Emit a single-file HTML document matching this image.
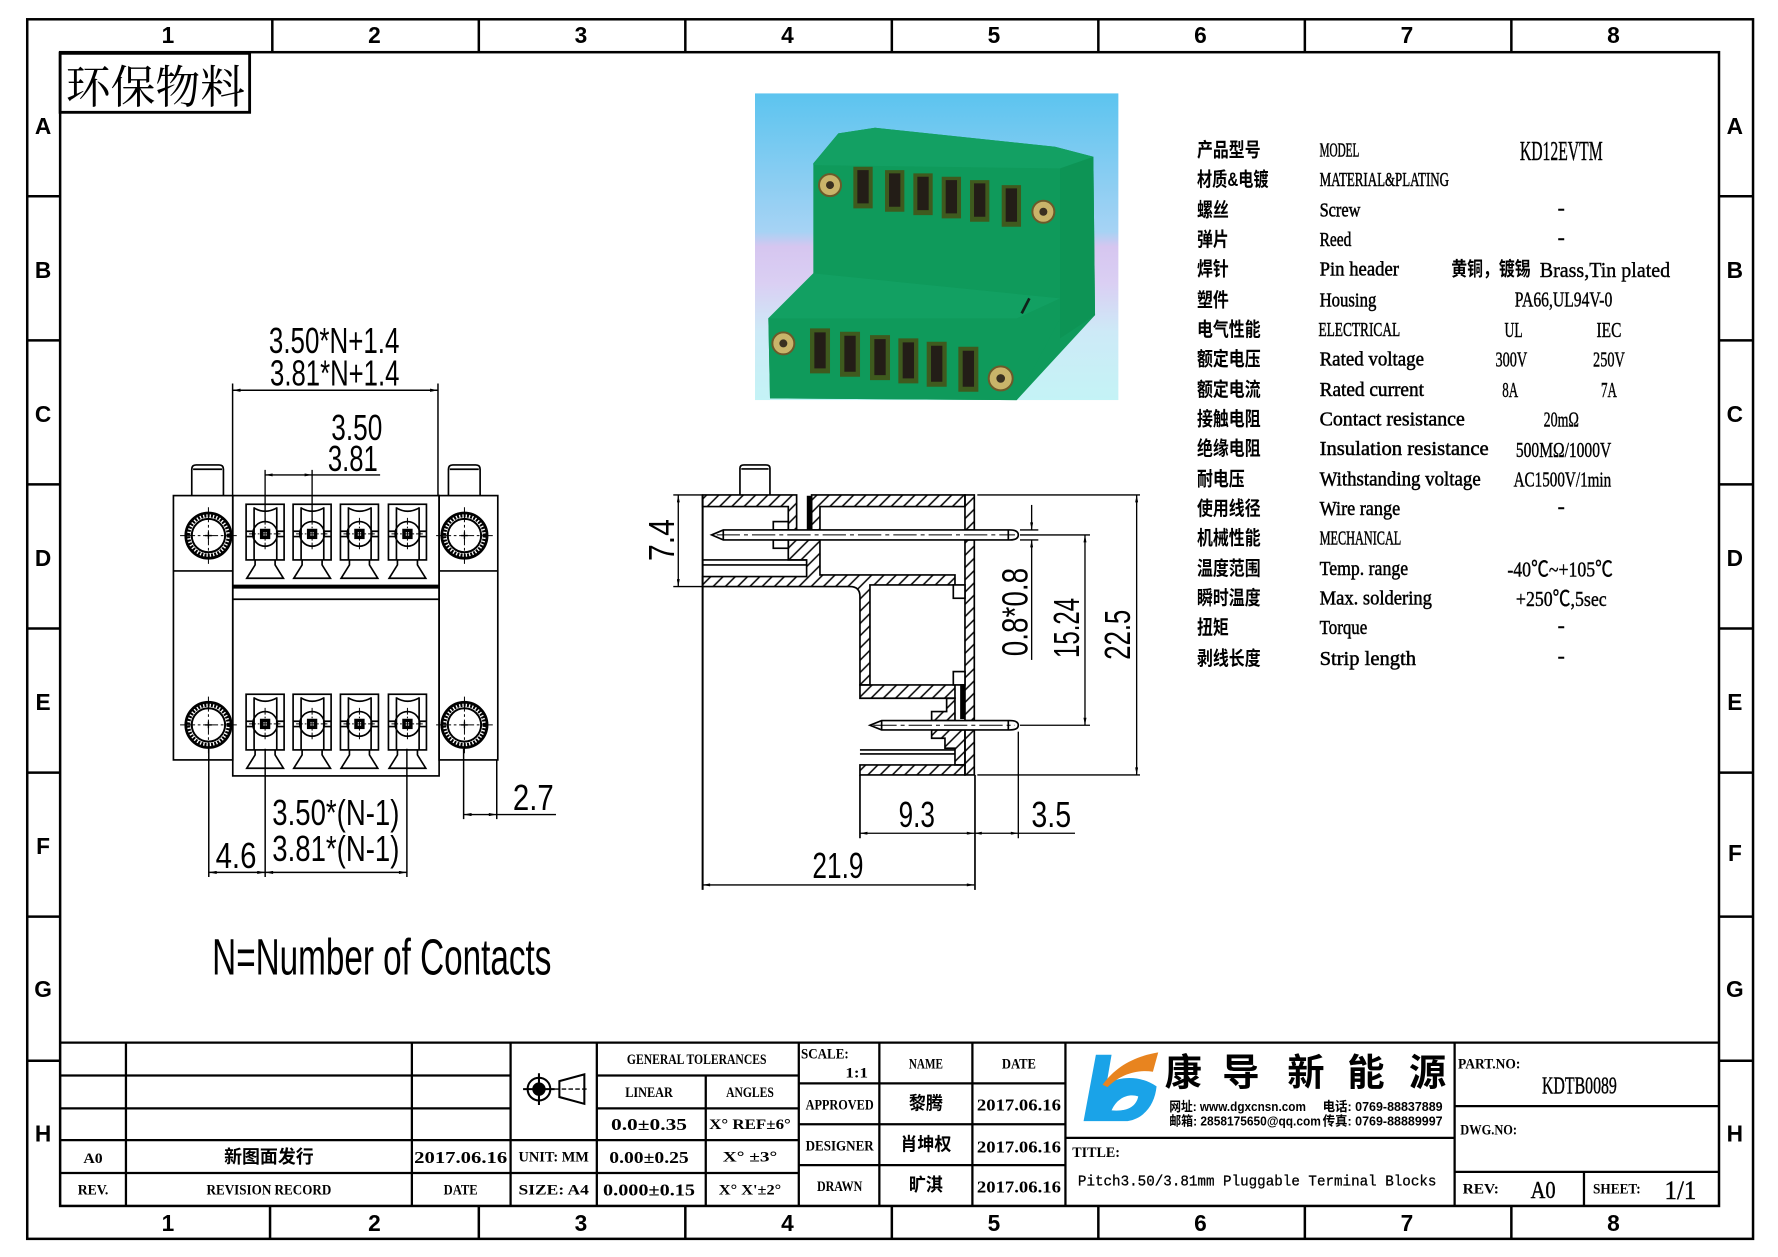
<!DOCTYPE html>
<html><head><meta charset="utf-8">
<style>
html,body{margin:0;padding:0;background:#fff;}
svg{display:block;}
.b{font-family:"Liberation Sans",sans-serif;font-weight:bold;font-size:20px;fill:#000;}
.d{font-family:"Liberation Sans",sans-serif;font-size:32px;fill:#000;}
.cn{font-family:"Liberation Sans","Noto Sans CJK SC",sans-serif;font-weight:bold;font-size:17px;fill:#000;}
.en{font-family:"Liberation Serif",serif;font-size:18px;fill:#000;stroke:#000;stroke-width:0.45;}
.v{font-family:"Liberation Serif","Noto Sans CJK SC",serif;font-size:19px;fill:#000;stroke:#000;stroke-width:0.35;}
.t{font-family:"Liberation Serif","Noto Sans CJK SC",serif;font-weight:bold;font-size:13px;fill:#000;}
.tc{font-family:"Liberation Sans","Noto Sans CJK SC",sans-serif;font-weight:bold;font-size:16px;fill:#000;}
</style></head><body>
<svg xmlns="http://www.w3.org/2000/svg" width="1778" height="1257" viewBox="0 0 1567 1108" preserveAspectRatio="none">
<defs>
 <pattern id="hp" patternUnits="userSpaceOnUse" width="26" height="26" patternTransform="rotate(45)"><line x1="3" y1="-2" x2="3" y2="28" stroke="#000" stroke-width="4.5"/></pattern>
 <marker id="ad" viewBox="0 0 10 4" refX="10" refY="2" markerWidth="9" markerHeight="2.8" orient="auto-start-reverse" markerUnits="userSpaceOnUse"><path d="M0 0L10 2L0 4z" fill="#000"/></marker>
 <marker id="ap" viewBox="0 0 10 4" refX="10" refY="2" markerWidth="30" markerHeight="9" orient="auto-start-reverse" markerUnits="userSpaceOnUse"><path d="M0 0L10 2L0 4z" fill="#000"/></marker>
 <linearGradient id="sky" x1="0" y1="0" x2="0" y2="1">
  <stop offset="0" stop-color="#5cc4ef"/>
  <stop offset="0.45" stop-color="#a6d3f4"/>
  <stop offset="0.5" stop-color="#d6c6f0"/>
  <stop offset="0.62" stop-color="#dacff3"/>
  <stop offset="0.78" stop-color="#cdeaf7"/>
  <stop offset="1" stop-color="#c4f3f6"/>
 </linearGradient>
 <g id="cell" fill="none" stroke="#000" stroke-width="5">
  <rect x="-57" y="-89" width="114" height="167"/>
  <path d="M-33 -80V78M35 -80V78"/>
  <path d="M-33 -78Q0 -58 35 -78"/>
  <path d="M-57 -8H-37M37 -8H57M-57 8H-37M37 8H57"/>
  <circle r="37"/>
  <rect x="-13" y="-13" width="26" height="26" fill="#000"/>
  <rect x="-5" y="-5" width="10" height="10" fill="#fff" stroke="none"/>
  <path d="M0 -48V48M-48 0H48" stroke-width="3" stroke-dasharray="20 6 5 6"/>
  <path d="M-30 78V93L-55 133H55L30 93V78"/>
 </g>
 <g id="screw" fill="none" stroke="#000">
  <circle r="68" stroke-width="8"/>
  <circle r="60" stroke-width="11" stroke-dasharray="6 4"/>
  <circle r="50" stroke-width="6"/>
  <path d="M-85 0H85M0 -85V85" stroke-width="3" stroke-dasharray="45 8 8 8"/>
  <path d="M-10 0H10M0 -10V10" stroke-width="4"/>
 </g>
</defs>

<!-- Frame -->
<g fill="none" stroke="#000" stroke-width="2.2">
 <rect x="24" y="17" width="1521" height="1075"/>
 <rect x="53" y="46" width="1462" height="1017"/>
 <path d="M240 17V46M422 17V46M604 17V46M786 17V46M968 17V46M1150 17V46M1332 17V46"/>
 <path d="M238 1063V1092M422 1063V1092M604 1063V1092M786 1063V1092M968 1063V1092M1150 1063V1092M1332 1063V1092"/>
 <path d="M24 173H53M24 300H53M24 427H53M24 554H53M24 681H53M24 808H53M24 935H53"/>
 <path d="M1515 173H1545M1515 300H1545M1515 427H1545M1515 554H1545M1515 681H1545M1515 808H1545M1515 935H1545"/>
</g>
<g class="b" text-anchor="middle">
 <text x="148" y="38">1</text><text x="330" y="38">2</text><text x="512" y="38">3</text><text x="694" y="38">4</text>
 <text x="876" y="38">5</text><text x="1058" y="38">6</text><text x="1240" y="38">7</text><text x="1422" y="38">8</text>
 <text x="148" y="1085">1</text><text x="330" y="1085">2</text><text x="512" y="1085">3</text><text x="694" y="1085">4</text>
 <text x="876" y="1085">5</text><text x="1058" y="1085">6</text><text x="1240" y="1085">7</text><text x="1422" y="1085">8</text>
 <text x="38" y="118">A</text><text x="38" y="245">B</text><text x="38" y="372">C</text><text x="38" y="499">D</text>
 <text x="38" y="626">E</text><text x="38" y="753">F</text><text x="38" y="879">G</text><text x="38" y="1006">H</text>
 <text x="1529" y="118">A</text><text x="1529" y="245">B</text><text x="1529" y="372">C</text><text x="1529" y="499">D</text>
 <text x="1529" y="626">E</text><text x="1529" y="759">F</text><text x="1529" y="879">G</text><text x="1529" y="1006">H</text>
</g>

<!-- 环保物料 -->
<rect x="53" y="47" width="167" height="52" fill="none" stroke="#000" stroke-width="2.5"/>
<text x="58" y="91" font-family="'Liberation Serif','Noto Serif CJK SC',serif" font-size="40" textLength="158" lengthAdjust="spacingAndGlyphs">环保物料</text>

<!-- Photo -->
<g transform="translate(661 75) scale(0.2938)">
 <rect x="15" y="25" width="1090" height="920" fill="url(#sky)"/>
 <path d="M190 235L265 145L375 128L915 185L1030 215L1035 690L800 945L60 940L55 700L190 565Z" fill="#0f9a5b"/>
 <path d="M930 250L1030 215L1035 690L930 760Z" fill="#0d9455"/>
 <path d="M190 235L265 145L375 128L915 185L1030 215L930 250L190 240Z" fill="#13a063"/>
 <path d="M55 700L190 565L930 640L930 700L800 945L60 940Z" fill="#0f9a5b"/>
 <path d="M55 700L190 565L930 640L800 700Z" fill="#12a062"/>
 <g fill="#3f5a1e">
  <path d="M310 245h58v125h-58z"/><path d="M405 255h58v125h-58z"/><path d="M490 265h58v125h-58z"/>
  <path d="M575 275h58v125h-58z"/><path d="M660 285h58v125h-58z"/><path d="M755 300h58v125h-58z"/>
  <path d="M180 730h60v135h-60z"/><path d="M270 740h60v135h-60z"/><path d="M360 750h60v135h-60z"/>
  <path d="M445 760h60v135h-60z"/><path d="M530 770h60v135h-60z"/><path d="M625 785h60v135h-60z"/>
 </g>
 <g fill="#231d17">
  <path d="M322 255h34v100h-34z"/><path d="M417 265h34v100h-34z"/><path d="M502 275h34v100h-34z"/>
  <path d="M587 285h34v100h-34z"/><path d="M672 295h34v100h-34z"/><path d="M767 310h34v100h-34z"/>
  <path d="M193 742h34v108h-34z"/><path d="M283 752h34v108h-34z"/><path d="M373 762h34v108h-34z"/>
  <path d="M458 772h34v108h-34z"/><path d="M543 782h34v108h-34z"/><path d="M638 797h34v108h-34z"/>
 </g>
 <g fill="#c9b46a" stroke="#6b5a2a" stroke-width="6">
  <circle cx="240" cy="300" r="33"/><circle cx="880" cy="380" r="33"/>
  <circle cx="100" cy="775" r="33"/><circle cx="752" cy="880" r="36"/>
 </g>
 <g fill="#3a3020">
  <circle cx="240" cy="300" r="12"/><circle cx="880" cy="380" r="12"/>
  <circle cx="100" cy="775" r="12"/><circle cx="752" cy="880" r="13"/>
 </g>
 <path d="M838 640L815 685" stroke="#10221a" stroke-width="8"/>
</g>

<!-- Front view -->
<g transform="translate(145.5 396.6) scale(0.2938)" fill="none" stroke="#000" stroke-width="5">
 <path d="M80 137V58Q80 45 93 45H162Q175 45 175 58V137M84 58H171"/>
 <path d="M850 137V58Q850 45 863 45H932Q945 45 945 58V137M854 58H941"/>
 <rect x="25" y="137" width="178" height="793"/>
 <line x1="25" y1="363" x2="203" y2="363"/>
 <rect x="822" y="137" width="176" height="793"/>
 <line x1="822" y1="363" x2="998" y2="363"/>
 <rect x="203" y="137" width="619" height="841"/>
 <line x1="203" y1="410" x2="822" y2="410" stroke-width="12"/>
 <line x1="203" y1="448" x2="822" y2="448"/>
 <use href="#screw" transform="translate(130 257)"/>
 <use href="#screw" transform="translate(130 825)"/>
 <use href="#screw" transform="translate(898 257)"/>
 <use href="#screw" transform="translate(898 825)"/>
 <use href="#cell" transform="translate(300 252)"/>
 <use href="#cell" transform="translate(441 252)"/>
 <use href="#cell" transform="translate(583 252)"/>
 <use href="#cell" transform="translate(727 252)"/>
 <use href="#cell" transform="translate(300 822)"/>
 <use href="#cell" transform="translate(441 822)"/>
 <use href="#cell" transform="translate(583 822)"/>
 <use href="#cell" transform="translate(727 822)"/>
 <path d="M300 60V215M441 60V215" stroke-width="4"/>
 <line x1="300" y1="75" x2="441" y2="75" stroke-width="4" marker-start="url(#ap)" marker-end="url(#ap)"/>
 <line x1="441" y1="75" x2="645" y2="75" stroke-width="4"/>
</g>
<!-- front view dims (display coords) -->
<g fill="none" stroke="#000" stroke-width="1.3">
 <path d="M205 338V437M386 338V437"/>
 <line x1="205" y1="344" x2="386" y2="344" marker-start="url(#ad)" marker-end="url(#ad)"/>
 <path d="M184 660V773M233.7 660V773M358.6 660V773M408.6 660V722M437.8 670V722"/>
 <line x1="184" y1="769" x2="233.7" y2="769" marker-start="url(#ad)" marker-end="url(#ad)"/>
 <line x1="233.7" y1="769" x2="358.6" y2="769" marker-start="url(#ad)" marker-end="url(#ad)"/>
 <line x1="408.6" y1="718" x2="437.8" y2="718" marker-start="url(#ad)" marker-end="url(#ad)"/>
 <line x1="437.8" y1="718" x2="490" y2="718"/>
</g>
<g class="d">
 <text x="237" y="311" textLength="115" lengthAdjust="spacingAndGlyphs">3.50*N+1.4</text>
 <text x="238" y="340" textLength="114" lengthAdjust="spacingAndGlyphs">3.81*N+1.4</text>
 <text x="292" y="388" textLength="45" lengthAdjust="spacingAndGlyphs">3.50</text>
 <text x="289" y="415" textLength="44" lengthAdjust="spacingAndGlyphs">3.81</text>
 <text x="240" y="727" textLength="112" lengthAdjust="spacingAndGlyphs">3.50*(N-1)</text>
 <text x="240" y="759" textLength="112" lengthAdjust="spacingAndGlyphs">3.81*(N-1)</text>
 <text x="190" y="765" textLength="36" lengthAdjust="spacingAndGlyphs">4.6</text>
 <text x="452" y="714" textLength="36" lengthAdjust="spacingAndGlyphs">2.7</text>
 <text x="187" y="859" font-size="45" textLength="299" lengthAdjust="spacingAndGlyphs">N=Number of Contacts</text>
</g>

<!-- Side view -->
<g transform="translate(564 396.6) scale(0.2938)" stroke="#000" stroke-width="5" fill="none">
 <g fill="url(#hp)">
  <path d="M188 135H470V240H445V170H188Z"/>
  <path d="M515 135H975V170H540V240H515Z"/>
  <path d="M975 135H1003V240H975Z"/>
  <path d="M975 270H1003V812H975Z"/>
  <path d="M975 840H1003V975H975Z"/>
  <path d="M445 270H540V375H945V405H690V705H660V440Q660 410 630 410H188V380H500V330H445Z"/>
  <path d="M660 705H945V745H660Z"/>
  <path d="M920 745H945V812H875V785H920Z"/>
  <path d="M875 840H975V945H945V895H915V865H875Z"/>
  <path d="M660 945H975V975H660Z"/>
 </g>
 <rect x="400" y="215" width="45" height="25" fill="#fff"/>
 <rect x="400" y="270" width="45" height="25" fill="#fff"/>
 <rect x="940" y="405" width="35" height="40" fill="#fff"/>
 <rect x="940" y="665" width="35" height="40" fill="#fff"/>
 <path d="M188 330H500M188 345H500"/>
 <path d="M660 900H945M660 912H945"/>
 <rect x="503" y="140" width="12" height="105" fill="#000"/>
 <rect x="963" y="705" width="10" height="100" fill="#000"/>
 <path d="M188 135V1320" stroke-width="6"/>
 <path d="M1005 975V1320"/>
 <path d="M660 975V1165"/>
 <path d="M300 135V55Q300 45 312 45H378Q390 45 390 55V135M304 57H386"/>
 <path d="M250 240H1110Q1135 240 1135 255Q1135 270 1110 270H250L215 255Z" fill="#fff"/>
 <path d="M250 240V270M1105 240V270"/>
 <path d="M230 255H1125" stroke-width="3" stroke-dasharray="70 12 12 12"/>
 <path d="M725 812H1110Q1135 812 1135 826Q1135 840 1110 840H725L690 826Z" fill="#fff"/>
 <path d="M725 812V840M1105 812V840"/>
 <path d="M700 826H1125" stroke-width="3" stroke-dasharray="70 12 12 12"/>
 <g stroke-width="4">
  <path d="M100 135H188M100 410H188"/>
  <line x1="115" y1="135" x2="115" y2="410" marker-start="url(#ap)" marker-end="url(#ap)"/>
  <path d="M1012 135H1500M1012 975H1500"/>
  <line x1="1490" y1="135" x2="1490" y2="975" marker-start="url(#ap)" marker-end="url(#ap)"/>
  <path d="M1140 255H1350M1140 826H1350"/>
  <line x1="1335" y1="255" x2="1335" y2="826" marker-start="url(#ap)" marker-end="url(#ap)"/>
  <path d="M1140 240H1195M1140 270H1195"/>
  <line x1="1175" y1="165" x2="1175" y2="240" marker-end="url(#ap)"/>
  <line x1="1175" y1="630" x2="1175" y2="270" marker-end="url(#ap)"/>
  <line x1="660" y1="1150" x2="1003" y2="1150" marker-start="url(#ap)" marker-end="url(#ap)"/>
  <line x1="1003" y1="1150" x2="1135" y2="1150" marker-start="url(#ap)" marker-end="url(#ap)"/>
  <path d="M1135 1150H1305M1135 845V1165"/>
  <line x1="188" y1="1305" x2="1003" y2="1305" marker-start="url(#ap)" marker-end="url(#ap)"/>
 </g>
</g>
<g class="d">
 <text transform="translate(582.5 476) rotate(-90)" x="0" y="11.5" text-anchor="middle" textLength="37" lengthAdjust="spacingAndGlyphs">7.4</text>
 <text transform="translate(894 539.5) rotate(-90)" x="0" y="11.5" text-anchor="middle" textLength="78" lengthAdjust="spacingAndGlyphs">0.8*0.8</text>
 <text transform="translate(939.5 553.5) rotate(-90)" x="0" y="11.5" text-anchor="middle" textLength="53" lengthAdjust="spacingAndGlyphs">15.24</text>
 <text transform="translate(984.5 559.5) rotate(-90)" x="0" y="11.5" text-anchor="middle" textLength="44" lengthAdjust="spacingAndGlyphs">22.5</text>
 <text x="792" y="729" textLength="32" lengthAdjust="spacingAndGlyphs">9.3</text>
 <text x="909" y="729" textLength="35" lengthAdjust="spacingAndGlyphs">3.5</text>
 <text x="716" y="774" textLength="45" lengthAdjust="spacingAndGlyphs">21.9</text>
</g>

<!-- Spec table -->
<g class="cn">
 <text x="1055" y="138" textLength="56" lengthAdjust="spacingAndGlyphs">产品型号</text>
 <text x="1055" y="164" textLength="63" lengthAdjust="spacingAndGlyphs">材质&amp;电镀</text>
 <text x="1055" y="191" textLength="28" lengthAdjust="spacingAndGlyphs">螺丝</text>
 <text x="1055" y="217" textLength="28" lengthAdjust="spacingAndGlyphs">弹片</text>
 <text x="1055" y="243" textLength="28" lengthAdjust="spacingAndGlyphs">焊针</text>
 <text x="1055" y="270" textLength="28" lengthAdjust="spacingAndGlyphs">塑件</text>
 <text x="1055" y="296" textLength="56" lengthAdjust="spacingAndGlyphs">电气性能</text>
 <text x="1055" y="322" textLength="56" lengthAdjust="spacingAndGlyphs">额定电压</text>
 <text x="1055" y="349" textLength="56" lengthAdjust="spacingAndGlyphs">额定电流</text>
 <text x="1055" y="375" textLength="56" lengthAdjust="spacingAndGlyphs">接触电阻</text>
 <text x="1055" y="401" textLength="56" lengthAdjust="spacingAndGlyphs">绝缘电阻</text>
 <text x="1055" y="428" textLength="42" lengthAdjust="spacingAndGlyphs">耐电压</text>
 <text x="1055" y="454" textLength="56" lengthAdjust="spacingAndGlyphs">使用线径</text>
 <text x="1055" y="480" textLength="56" lengthAdjust="spacingAndGlyphs">机械性能</text>
 <text x="1055" y="507" textLength="56" lengthAdjust="spacingAndGlyphs">温度范围</text>
 <text x="1055" y="533" textLength="56" lengthAdjust="spacingAndGlyphs">瞬时温度</text>
 <text x="1055" y="559" textLength="28" lengthAdjust="spacingAndGlyphs">扭矩</text>
 <text x="1055" y="586" textLength="56" lengthAdjust="spacingAndGlyphs">剥线长度</text>
 <text x="1279" y="243" textLength="70" lengthAdjust="spacingAndGlyphs">黄铜，镀锡</text>
</g>
<g class="en">
 <text x="1163" y="138" textLength="35" lengthAdjust="spacingAndGlyphs">MODEL</text>
 <text x="1163" y="164" textLength="114" lengthAdjust="spacingAndGlyphs">MATERIAL&amp;PLATING</text>
 <text x="1163" y="191" textLength="36" lengthAdjust="spacingAndGlyphs">Screw</text>
 <text x="1163" y="217" textLength="28" lengthAdjust="spacingAndGlyphs">Reed</text>
 <text x="1163" y="243" textLength="70" lengthAdjust="spacingAndGlyphs">Pin header</text>
 <text x="1163" y="270" textLength="50" lengthAdjust="spacingAndGlyphs">Housing</text>
 <text x="1162" y="296" textLength="72" lengthAdjust="spacingAndGlyphs">ELECTRICAL</text>
 <text x="1163" y="322" textLength="92" lengthAdjust="spacingAndGlyphs">Rated voltage</text>
 <text x="1163" y="349" textLength="92" lengthAdjust="spacingAndGlyphs">Rated current</text>
 <text x="1163" y="375" textLength="128" lengthAdjust="spacingAndGlyphs">Contact resistance</text>
 <text x="1163" y="401" textLength="149" lengthAdjust="spacingAndGlyphs">Insulation resistance</text>
 <text x="1163" y="428" textLength="142" lengthAdjust="spacingAndGlyphs">Withstanding voltage</text>
 <text x="1163" y="454" textLength="71" lengthAdjust="spacingAndGlyphs">Wire range</text>
 <text x="1163" y="480" textLength="72" lengthAdjust="spacingAndGlyphs">MECHANICAL</text>
 <text x="1163" y="507" textLength="78" lengthAdjust="spacingAndGlyphs">Temp. range</text>
 <text x="1163" y="533" textLength="99" lengthAdjust="spacingAndGlyphs">Max. soldering</text>
 <text x="1163" y="559" textLength="42" lengthAdjust="spacingAndGlyphs">Torque</text>
 <text x="1163" y="586" textLength="85" lengthAdjust="spacingAndGlyphs">Strip length</text>
</g>
<g class="v" text-anchor="middle">
 <text x="1376" y="141" font-size="24" textLength="73" lengthAdjust="spacingAndGlyphs">KD12EVTM</text>
 <text x="1376" y="189">-</text>
 <text x="1376" y="215">-</text>
 <text x="1378" y="270" textLength="86" lengthAdjust="spacingAndGlyphs">PA66,UL94V-0</text>
 <text x="1334" y="297" textLength="16" lengthAdjust="spacingAndGlyphs">UL</text>
 <text x="1418" y="297" textLength="22" lengthAdjust="spacingAndGlyphs">IEC</text>
 <text x="1332" y="323" textLength="28" lengthAdjust="spacingAndGlyphs">300V</text>
 <text x="1418" y="323" textLength="28" lengthAdjust="spacingAndGlyphs">250V</text>
 <text x="1331" y="350" textLength="14" lengthAdjust="spacingAndGlyphs">8A</text>
 <text x="1418" y="350" textLength="14" lengthAdjust="spacingAndGlyphs">7A</text>
 <text x="1376" y="376" textLength="31" lengthAdjust="spacingAndGlyphs">20mΩ</text>
 <text x="1378" y="403" textLength="84" lengthAdjust="spacingAndGlyphs">500MΩ/1000V</text>
 <text x="1377" y="429" textLength="86" lengthAdjust="spacingAndGlyphs">AC1500V/1min</text>
 <text x="1376" y="452">-</text>
 <text x="1375" y="508" textLength="93" lengthAdjust="spacingAndGlyphs">-40℃~+105℃</text>
 <text x="1376" y="534" textLength="80" lengthAdjust="spacingAndGlyphs">+250℃,5sec</text>
 <text x="1376" y="557">-</text>
 <text x="1376" y="584">-</text>
</g>
<text x="1357" y="244" class="v" textLength="115" lengthAdjust="spacingAndGlyphs">Brass,Tin plated</text>

<!-- Title block lines -->
<g fill="none" stroke="#000" stroke-width="2">
 <path d="M53 919H1515"/>
 <path d="M111 919V1063M363 919V1063M450 919V1063M526 919V1063"/>
 <path d="M53 948H450M53 977H450M53 1005H526M53 1034H526"/>
 <path d="M526 948H704M526 977H704M526 1005H704M526 1034H704M622 948V1063"/>
 <path d="M704 919V1063M775 919V1063M857 919V1063M939 919V1063"/>
 <path d="M704 955H939M704 991H939M704 1027H939"/>
 <path d="M939 1003H1282M1282 919V1063"/>
 <path d="M1282 975H1515M1282 1033H1515M1396 1033V1063"/>
</g>
<!-- projection symbol -->
<g fill="none" stroke="#000" stroke-width="1.8">
 <circle cx="475" cy="960" r="10"/>
 <circle cx="475" cy="960" r="5" fill="#000"/>
 <path d="M461 960H489M475 946V974"/>
 <path d="M493 953L515 947V973L493 967Z"/>
 <path d="M489 960H519" stroke-width="1.2" stroke-dasharray="4 2"/>
</g>
<g class="t" text-anchor="middle">
 <text x="82" y="1025" textLength="17" lengthAdjust="spacingAndGlyphs">A0</text>
 <text x="406" y="1025" font-size="15" textLength="82" lengthAdjust="spacingAndGlyphs">2017.06.16</text>
 <text x="488" y="1024" textLength="62" lengthAdjust="spacingAndGlyphs">UNIT: MM</text>
 <text x="82" y="1053" textLength="27" lengthAdjust="spacingAndGlyphs">REV.</text>
 <text x="237" y="1053" textLength="110" lengthAdjust="spacingAndGlyphs">REVISION RECORD</text>
 <text x="406" y="1053" textLength="30" lengthAdjust="spacingAndGlyphs">DATE</text>
 <text x="488" y="1053" textLength="62" lengthAdjust="spacingAndGlyphs">SIZE: A4</text>
 <text x="614" y="938" textLength="123" lengthAdjust="spacingAndGlyphs">GENERAL TOLERANCES</text>
 <text x="572" y="967" textLength="42" lengthAdjust="spacingAndGlyphs">LINEAR</text>
 <text x="661" y="967" textLength="42" lengthAdjust="spacingAndGlyphs">ANGLES</text>
 <text x="572" y="996" font-size="15" textLength="67" lengthAdjust="spacingAndGlyphs">0.0±0.35</text>
 <text x="661" y="995" textLength="72" lengthAdjust="spacingAndGlyphs">X° REF±6°</text>
 <text x="572" y="1025" font-size="15" textLength="70" lengthAdjust="spacingAndGlyphs">0.00±0.25</text>
 <text x="661" y="1024" textLength="48" lengthAdjust="spacingAndGlyphs">X° ±3°</text>
 <text x="572" y="1054" font-size="15" textLength="81" lengthAdjust="spacingAndGlyphs">0.000±0.15</text>
 <text x="661" y="1053" textLength="55" lengthAdjust="spacingAndGlyphs">X° X'±2°</text>
 <text x="816" y="942" textLength="30" lengthAdjust="spacingAndGlyphs">NAME</text>
 <text x="898" y="942" textLength="30" lengthAdjust="spacingAndGlyphs">DATE</text>
 <text x="740" y="978" textLength="60" lengthAdjust="spacingAndGlyphs">APPROVED</text>
 <text x="740" y="1014" textLength="60" lengthAdjust="spacingAndGlyphs">DESIGNER</text>
 <text x="740" y="1050" textLength="40" lengthAdjust="spacingAndGlyphs">DRAWN</text>
 <text x="898" y="979" font-size="15" textLength="74" lengthAdjust="spacingAndGlyphs">2017.06.16</text>
 <text x="898" y="1016" font-size="15" textLength="74" lengthAdjust="spacingAndGlyphs">2017.06.16</text>
 <text x="898" y="1051" font-size="15" textLength="74" lengthAdjust="spacingAndGlyphs">2017.06.16</text>
</g>
<g class="tc" text-anchor="middle">
 <text x="237" y="1025" textLength="79" lengthAdjust="spacingAndGlyphs">新图面发行</text>
 <text x="816" y="978" textLength="30" lengthAdjust="spacingAndGlyphs">黎腾</text>
 <text x="816" y="1014" textLength="45" lengthAdjust="spacingAndGlyphs">肖坤权</text>
 <text x="816" y="1050" textLength="30" lengthAdjust="spacingAndGlyphs">旷淇</text>
</g>
<g class="t">
 <text x="706" y="933" textLength="42" lengthAdjust="spacingAndGlyphs">SCALE:</text>
 <text x="765" y="950" text-anchor="end" textLength="20" lengthAdjust="spacingAndGlyphs">1:1</text>
 <text x="945" y="1020" textLength="42" lengthAdjust="spacingAndGlyphs">TITLE:</text>
 <text x="1285" y="942" textLength="55" lengthAdjust="spacingAndGlyphs">PART.NO:</text>
 <text x="1287" y="1000" textLength="50" lengthAdjust="spacingAndGlyphs">DWG.NO:</text>
 <text x="1289" y="1052" textLength="32" lengthAdjust="spacingAndGlyphs">REV:</text>
 <text x="1404" y="1052" textLength="42" lengthAdjust="spacingAndGlyphs">SHEET:</text>
</g>
<text x="950" y="1045" font-family="'Liberation Mono',monospace" font-size="13" textLength="316" lengthAdjust="spacingAndGlyphs" fill="#000" stroke="#000" stroke-width="0.25">Pitch3.50/3.81mm Pluggable Terminal Blocks</text>
<g class="v" text-anchor="middle">
 <text x="1392" y="964" font-size="21" textLength="66" lengthAdjust="spacingAndGlyphs">KDTB0089</text>
 <text x="1360" y="1056" font-size="21" textLength="22" lengthAdjust="spacingAndGlyphs">A0</text>
 <text x="1481" y="1057" font-size="23" textLength="28" lengthAdjust="spacingAndGlyphs">1/1</text>
</g>

<!-- Logo -->
<g transform="translate(935 916.5) scale(0.2938)">
 <path d="M105 45L152 45L137 132C178 110 235 105 287 140C282 192 252 236 200 244L68 244Z" fill="#1aa3e8"/>
 <path d="M152 212C168 175 202 160 232 170C226 200 200 216 152 212Z" fill="#fff"/>
 <path d="M125 135C165 80 220 50 292 38L276 96C226 88 176 106 140 142Z" fill="#e8841f"/>
 <g font-family="'Liberation Sans','Noto Sans CJK SC',sans-serif" font-weight="bold" font-size="112" text-anchor="middle" fill="#000">
  <text x="367" y="137">康</text><text x="540" y="137">导</text><text x="735" y="137">新</text><text x="915" y="137">能</text><text x="1100" y="137">源</text>
 </g>
 <g font-family="'Liberation Sans','Noto Sans CJK SC',sans-serif" font-weight="bold" font-size="40" fill="#000">
  <text x="325" y="214" textLength="410" lengthAdjust="spacingAndGlyphs">网址: www.dgxcnsn.com</text>
  <text x="785" y="214" textLength="360" lengthAdjust="spacingAndGlyphs">电话: 0769-88837889</text>
  <text x="325" y="258" textLength="455" lengthAdjust="spacingAndGlyphs">邮箱: 2858175650@qq.com</text>
  <text x="785" y="258" textLength="360" lengthAdjust="spacingAndGlyphs">传真: 0769-88889997</text>
 </g>
</g>
</svg>
</body></html>
